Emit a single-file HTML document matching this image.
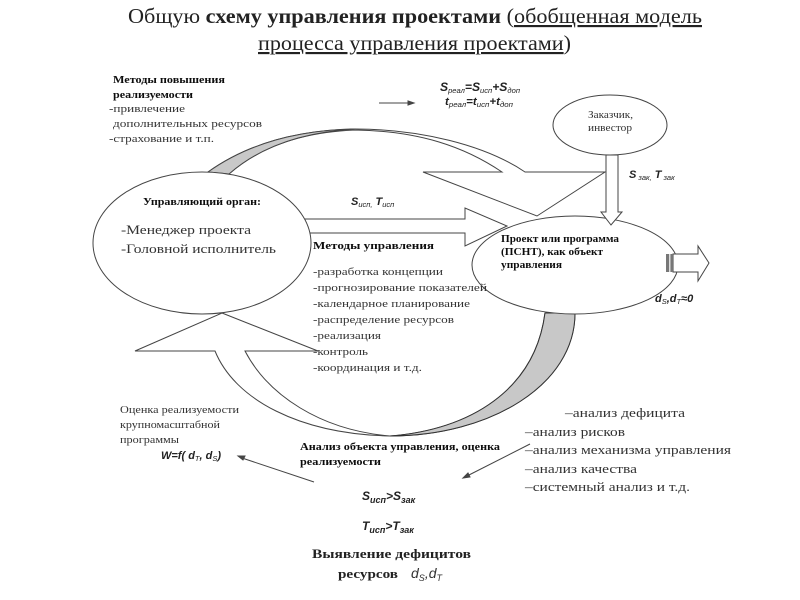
<!DOCTYPE html>
<html lang="ru"><head><meta charset="utf-8"><title>Общая схема управления проектами</title>
<style>
html,body{margin:0;padding:0;background:#fff}
svg{display:block}
text{font-family:"Liberation Serif","DejaVu Serif",serif;fill:#222}
.b{font-weight:bold;font-size:10.5px;fill:#111}
.r{font-size:11px;fill:#333}
.m{font-size:13px;fill:#333}
.f{font-family:"Liberation Sans","DejaVu Sans",sans-serif;font-style:italic;font-weight:bold;font-size:11px;fill:#222}
.s{font-size:7.5px;font-weight:normal}
</style></head><body>
<svg width="800" height="600" viewBox="0 0 800 600" xmlns="http://www.w3.org/2000/svg">
<defs><filter id="bl" x="-2%" y="-2%" width="104%" height="104%"><feGaussianBlur stdDeviation="0.35"/></filter></defs>
<g filter="url(#bl)">
<!-- top curved arrow -->
<path d="M208 172 C250 142 300 130 355 129 C420 129 485 145 525 172 L605 172 L537 216 L423 172 L502 172 C465 147 420 131 355 130 C305 132 262 145 229 174 Z" fill="#fff" stroke="#444" stroke-width="1"/>
<path d="M208 172 C250 142 300 130 355 129 C305 132 262 145 229 174 Z" fill="#c8c8c8" stroke="#444" stroke-width="1"/>
<!-- middle arrow -->
<path d="M300 219 H465 V208 L507 226 L465 246 V233 H300 Z" fill="#fff" stroke="#444" stroke-width="1"/>
<!-- bottom curved arrow -->
<path d="M222 313 L318 351 H245 C268 395 320 430 390 436 C470 430 535 390 545 313 H575 C575 385 490 436 390 436 C300 434 235 400 215 351 H135 Z" fill="#fff" stroke="#444" stroke-width="1"/>
<path d="M390 436 C470 430 535 390 545 313 H575 C575 385 490 436 390 436 Z" fill="#c8c8c8" stroke="#333" stroke-width="1"/>
<!-- ellipses -->
<ellipse cx="202" cy="243" rx="109" ry="71" fill="#fff" stroke="#444" stroke-width="1"/>
<ellipse cx="575" cy="265" rx="103" ry="49" fill="#fff" stroke="#444" stroke-width="1"/>
<!-- down arrow -->
<path d="M606 155 V212 H601 L611 225 L622 212 H618 V155 Z" fill="#fff" stroke="#444" stroke-width="1"/>
<ellipse cx="610" cy="125" rx="57" ry="30" fill="#fff" stroke="#444" stroke-width="1"/>
<!-- right output arrow -->
<path d="M673 254 H698 V246 L709 263 L698 281 V272 H673 Z" fill="#fff" stroke="#444" stroke-width="1"/>
<rect x="666" y="254" width="7" height="18" fill="#777"/>
<rect x="669" y="254" width="1.5" height="18" fill="#ddd"/>
<!-- thin arrows -->
<g stroke="#444" stroke-width="1" fill="#444">
<line x1="379" y1="103" x2="410" y2="103"/><path d="M414 103 L408 101 V105 Z"/>
<line x1="314" y1="482" x2="242" y2="458"/><path d="M238 456 L245 456 L243 460 Z"/>
<line x1="530" y1="444" x2="467" y2="476"/><path d="M463 478 L468 473 L470 477 Z"/>
</g>
<!-- title -->
<text x="128" y="23" font-size="21.5" textLength="574" lengthAdjust="spacingAndGlyphs" fill="#222">Общую <tspan font-weight="bold">схему управления проектами</tspan> (<tspan text-decoration="underline">обобщенная модель</tspan></text>
<text x="258" y="50" font-size="21.5" textLength="313" lengthAdjust="spacingAndGlyphs"><tspan text-decoration="underline">процесса управления проектами</tspan>)</text>
<!-- top-left -->
<text class="b" x="113" y="83" textLength="112" lengthAdjust="spacingAndGlyphs">Методы повышения</text>
<text class="b" x="113" y="98" textLength="80" lengthAdjust="spacingAndGlyphs">реализуемости</text>
<text class="r" x="109" y="112" textLength="76" lengthAdjust="spacingAndGlyphs">-привлечение</text>
<text class="r" x="113" y="127" textLength="149" lengthAdjust="spacingAndGlyphs">дополнительных ресурсов</text>
<text class="r" x="109" y="142" textLength="105" lengthAdjust="spacingAndGlyphs">-страхование и т.п.</text>
<!-- managing body -->
<text class="b" x="143" y="205" textLength="118" lengthAdjust="spacingAndGlyphs">Управляющий орган:</text>
<text class="m" x="121" y="234" textLength="130" lengthAdjust="spacingAndGlyphs">-Менеджер проекта</text>
<text class="m" x="121" y="253" textLength="155" lengthAdjust="spacingAndGlyphs">-Головной исполнитель</text>
<!-- methods -->
<text class="b" x="313" y="249" textLength="121" lengthAdjust="spacingAndGlyphs">Методы управления</text>
<text class="r" x="313" y="275" textLength="130" lengthAdjust="spacingAndGlyphs">-разработка концепции</text>
<text class="r" x="313" y="291" textLength="174" lengthAdjust="spacingAndGlyphs">-прогнозирование показателей</text>
<text class="r" x="313" y="307" textLength="157" lengthAdjust="spacingAndGlyphs">-календарное планирование</text>
<text class="r" x="313" y="323" textLength="141" lengthAdjust="spacingAndGlyphs">-распределение ресурсов</text>
<text class="r" x="313" y="339" textLength="68" lengthAdjust="spacingAndGlyphs">-реализация</text>
<text class="r" x="313" y="355" textLength="55" lengthAdjust="spacingAndGlyphs">-контроль</text>
<text class="r" x="313" y="371" textLength="109" lengthAdjust="spacingAndGlyphs">-координация и т.д.</text>
<!-- project -->
<text class="b" x="501" y="242" textLength="118" lengthAdjust="spacingAndGlyphs">Проект или программа</text>
<text class="b" x="501" y="255" textLength="102" lengthAdjust="spacingAndGlyphs">(ПСНТ), как объект</text>
<text class="b" x="501" y="268" textLength="61" lengthAdjust="spacingAndGlyphs">управления</text>
<!-- customer -->
<text class="r" x="588" y="118" textLength="45" lengthAdjust="spacingAndGlyphs">Заказчик,</text>
<text class="r" x="588" y="131" textLength="44" lengthAdjust="spacingAndGlyphs">инвестор</text>
<!-- formulas -->
<text class="f" x="440" y="91" style="font-size:12px" textLength="80" lengthAdjust="spacingAndGlyphs">S<tspan class="s" dy="2">реал</tspan><tspan dy="-2">=S</tspan><tspan class="s" dy="2">исп</tspan><tspan dy="-2">+S</tspan><tspan class="s" dy="2">доп</tspan></text>
<text class="f" x="445" y="105" style="font-size:11px" textLength="68" lengthAdjust="spacingAndGlyphs">t<tspan class="s" dy="2">реал</tspan><tspan dy="-2">=t</tspan><tspan class="s" dy="2">исп</tspan><tspan dy="-2">+t</tspan><tspan class="s" dy="2">доп</tspan></text>
<text class="f" x="629" y="178">S<tspan class="s" dy="2"> зак,</tspan><tspan dy="-2"> T</tspan><tspan class="s" dy="2"> зак</tspan></text>
<text class="f" x="351" y="205">S<tspan class="s" dy="2">исп,</tspan><tspan dy="-2"> T</tspan><tspan class="s" dy="2">исп</tspan></text>
<text class="f" x="655" y="302">d<tspan class="s" dy="2">S</tspan><tspan dy="-2">,d</tspan><tspan class="s" dy="2">T</tspan><tspan dy="-2">≈0</tspan></text>
<!-- estimate -->
<text class="r" x="120" y="413" textLength="119" lengthAdjust="spacingAndGlyphs">Оценка реализуемости</text>
<text class="r" x="120" y="428" textLength="100" lengthAdjust="spacingAndGlyphs">крупномасштабной</text>
<text class="r" x="120" y="443" textLength="59" lengthAdjust="spacingAndGlyphs">программы</text>
<text class="f" x="161" y="459" font-size="10.5">W=f( d<tspan class="s" dy="2">T</tspan><tspan dy="-2">, d</tspan><tspan class="s" dy="2">S</tspan><tspan dy="-2">)</tspan></text>
<!-- analysis -->
<text class="b" x="300" y="450" textLength="200" lengthAdjust="spacingAndGlyphs">Анализ объекта управления, оценка</text>
<text class="b" x="300" y="465" textLength="81" lengthAdjust="spacingAndGlyphs">реализуемости</text>
<text class="f" x="362" y="500" style="font-size:12px">S<tspan style="font-size:9px" dy="3">исп</tspan><tspan dy="-3">&gt;S</tspan><tspan style="font-size:9px" dy="3">зак</tspan></text>
<text class="f" x="362" y="530" style="font-size:12px">T<tspan style="font-size:9px" dy="3">исп</tspan><tspan dy="-3">&gt;T</tspan><tspan style="font-size:9px" dy="3">зак</tspan></text>
<text x="312" y="558" font-size="13" font-weight="bold" textLength="159" lengthAdjust="spacingAndGlyphs">Выявление дефицитов</text>
<text x="338" y="578" font-size="13" font-weight="bold" textLength="60" lengthAdjust="spacingAndGlyphs">ресурсов</text>
<text x="411" y="578" font-size="14" style="font-family:'Liberation Sans',sans-serif;font-style:italic;fill:#333">d<tspan font-size="9" dy="3">S</tspan><tspan dy="-3">,d</tspan><tspan font-size="9" dy="3">T</tspan></text>
<!-- right list -->
<text class="m" x="565" y="417" textLength="120" lengthAdjust="spacingAndGlyphs">–анализ дефицита</text>
<text class="m" x="525" y="436" textLength="100" lengthAdjust="spacingAndGlyphs">–анализ рисков</text>
<text class="m" x="525" y="454" textLength="206" lengthAdjust="spacingAndGlyphs">–анализ механизма управления</text>
<text class="m" x="525" y="473" textLength="112" lengthAdjust="spacingAndGlyphs">–анализ качества</text>
<text class="m" x="525" y="491" textLength="165" lengthAdjust="spacingAndGlyphs">–системный анализ и т.д.</text>
</g>
</svg>
</body></html>
